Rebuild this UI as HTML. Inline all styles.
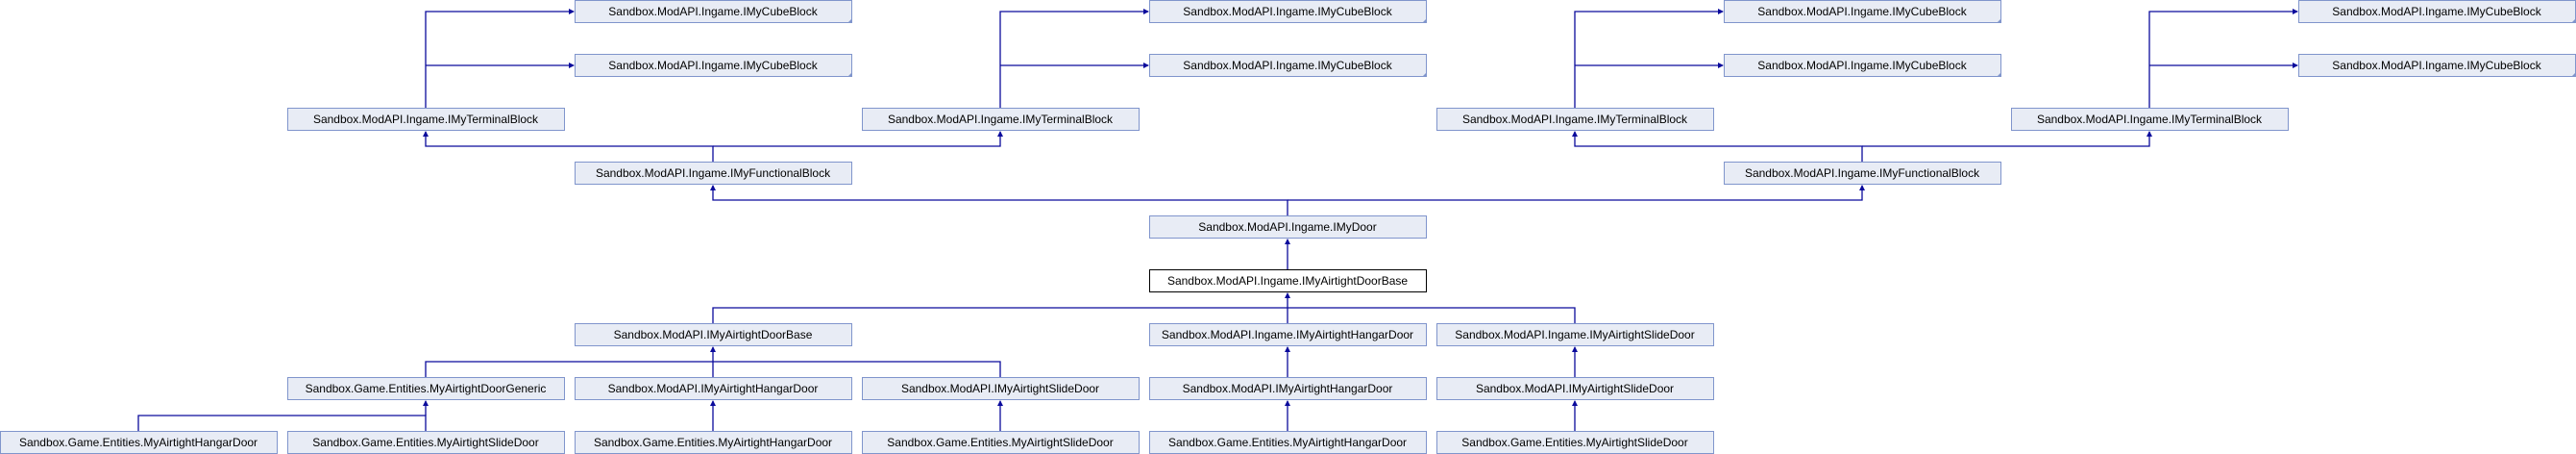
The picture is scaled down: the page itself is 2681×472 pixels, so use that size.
<!DOCTYPE html>
<html><head><meta charset="utf-8"><style>
html,body{margin:0;padding:0;background:#fff;}
svg{display:block;}
text{font-family:"Liberation Sans",sans-serif;font-size:12px;fill:#000;}
</style></head><body>
<svg width="2681" height="472" viewBox="0 0 2681 472" xmlns="http://www.w3.org/2000/svg">
<defs>
<marker id="a" markerWidth="6" markerHeight="6" refX="5" refY="3" orient="auto" markerUnits="userSpaceOnUse">
<path d="M0,0 L6,3 L0,6 z" fill="#0a0a9c"/>
</marker>
</defs>
<g stroke="#0a0a9c" stroke-width="1.3" fill="none">
<!-- terminal -> cube -->
<polyline points="443,113 443,12 597,12" marker-end="url(#a)"/>
<polyline points="443,68 597,68" marker-end="url(#a)"/>
<polyline points="1041,113 1041,12 1195,12" marker-end="url(#a)"/>
<polyline points="1041,68 1195,68" marker-end="url(#a)"/>
<polyline points="1639,113 1639,12 1793,12" marker-end="url(#a)"/>
<polyline points="1639,68 1793,68" marker-end="url(#a)"/>
<polyline points="2237,113 2237,12 2391,12" marker-end="url(#a)"/>
<polyline points="2237,68 2391,68" marker-end="url(#a)"/>
<!-- functional -> terminal -->
<polyline points="742,169 742,152 443,152 443,137" marker-end="url(#a)"/>
<polyline points="742,152 1041,152 1041,137" marker-end="url(#a)"/>
<polyline points="1938,169 1938,152 1639,152 1639,137" marker-end="url(#a)"/>
<polyline points="1938,152 2237,152 2237,137" marker-end="url(#a)"/>
<!-- door -> functional -->
<polyline points="1340,225 1340,208 742,208 742,193" marker-end="url(#a)"/>
<polyline points="1340,208 1938,208 1938,193" marker-end="url(#a)"/>
<!-- base -> door -->
<polyline points="1340,281 1340,249" marker-end="url(#a)"/>
<!-- row6 -> base -->
<polyline points="742,337 742,320 1639,320 1639,337"/>
<polyline points="1340,337 1340,305" marker-end="url(#a)"/>
<!-- row7 -> row6 -->
<polyline points="443,393 443,376 1041,376 1041,393"/>
<polyline points="742,393 742,361" marker-end="url(#a)"/>
<polyline points="1340,393 1340,361" marker-end="url(#a)"/>
<polyline points="1639,393 1639,361" marker-end="url(#a)"/>
<!-- row8 -> row7 -->
<polyline points="144,449 144,432 443,432 443,449"/>
<polyline points="443,432 443,417" marker-end="url(#a)"/>
<polyline points="742,449 742,417" marker-end="url(#a)"/>
<polyline points="1041,449 1041,417" marker-end="url(#a)"/>
<polyline points="1340,449 1340,417" marker-end="url(#a)"/>
<polyline points="1639,449 1639,417" marker-end="url(#a)"/>
</g>
<g id="boxes" stroke-width="1">
<!-- row0/1 cube -->
<g fill="#e8ecf5" stroke="#8095cc">
<rect x="598.5" y="0.5" width="288" height="23"/><rect x="1196.5" y="0.5" width="288" height="23"/><rect x="1794.5" y="0.5" width="288" height="23"/><rect x="2392.5" y="0.5" width="288" height="23"/>
<rect x="598.5" y="56.5" width="288" height="23"/><rect x="1196.5" y="56.5" width="288" height="23"/><rect x="1794.5" y="56.5" width="288" height="23"/><rect x="2392.5" y="56.5" width="288" height="23"/>
<rect x="299.5" y="112.5" width="288" height="23"/><rect x="897.5" y="112.5" width="288" height="23"/><rect x="1495.5" y="112.5" width="288" height="23"/><rect x="2093.5" y="112.5" width="288" height="23"/>
<rect x="598.5" y="168.5" width="288" height="23"/><rect x="1794.5" y="168.5" width="288" height="23"/>
<rect x="1196.5" y="224.5" width="288" height="23"/>
<rect x="598.5" y="336.5" width="288" height="23"/><rect x="1196.5" y="336.5" width="288" height="23"/><rect x="1495.5" y="336.5" width="288" height="23"/>
<rect x="299.5" y="392.5" width="288" height="23"/><rect x="598.5" y="392.5" width="288" height="23"/><rect x="897.5" y="392.5" width="288" height="23"/><rect x="1196.5" y="392.5" width="288" height="23"/><rect x="1495.5" y="392.5" width="288" height="23"/>
<rect x="0.5" y="448.5" width="288" height="23"/><rect x="299.5" y="448.5" width="288" height="23"/><rect x="598.5" y="448.5" width="288" height="23"/><rect x="897.5" y="448.5" width="288" height="23"/><rect x="1196.5" y="448.5" width="288" height="23"/><rect x="1495.5" y="448.5" width="288" height="23"/>
</g>
<rect x="1196.5" y="280.5" width="288" height="23" fill="#fff" stroke="#000"/>
<g fill="#8095cc">
<path d="M887,19 L887,24 L882,24z"/><path d="M1485,19 L1485,24 L1480,24z"/><path d="M2083,19 L2083,24 L2078,24z"/><path d="M2681,19 L2681,24 L2676,24z"/>
<path d="M887,75 L887,80 L882,80z"/><path d="M1485,75 L1485,80 L1480,80z"/><path d="M2083,75 L2083,80 L2078,80z"/><path d="M2681,75 L2681,80 L2676,80z"/>
</g>
</g>
<g text-anchor="middle">
<text x="742" y="16">Sandbox.ModAPI.Ingame.IMyCubeBlock</text><text x="1340" y="16">Sandbox.ModAPI.Ingame.IMyCubeBlock</text><text x="1938" y="16">Sandbox.ModAPI.Ingame.IMyCubeBlock</text><text x="2536" y="16">Sandbox.ModAPI.Ingame.IMyCubeBlock</text>
<text x="742" y="72">Sandbox.ModAPI.Ingame.IMyCubeBlock</text><text x="1340" y="72">Sandbox.ModAPI.Ingame.IMyCubeBlock</text><text x="1938" y="72">Sandbox.ModAPI.Ingame.IMyCubeBlock</text><text x="2536" y="72">Sandbox.ModAPI.Ingame.IMyCubeBlock</text>
<text x="443" y="128">Sandbox.ModAPI.Ingame.IMyTerminalBlock</text><text x="1041" y="128">Sandbox.ModAPI.Ingame.IMyTerminalBlock</text><text x="1639" y="128">Sandbox.ModAPI.Ingame.IMyTerminalBlock</text><text x="2237" y="128">Sandbox.ModAPI.Ingame.IMyTerminalBlock</text>
<text x="742" y="184">Sandbox.ModAPI.Ingame.IMyFunctionalBlock</text><text x="1938" y="184">Sandbox.ModAPI.Ingame.IMyFunctionalBlock</text>
<text x="1340" y="240">Sandbox.ModAPI.Ingame.IMyDoor</text>
<text x="1340" y="296">Sandbox.ModAPI.Ingame.IMyAirtightDoorBase</text>
<text x="742" y="352">Sandbox.ModAPI.IMyAirtightDoorBase</text><text x="1340" y="352">Sandbox.ModAPI.Ingame.IMyAirtightHangarDoor</text><text x="1639" y="352">Sandbox.ModAPI.Ingame.IMyAirtightSlideDoor</text>
<text x="443" y="408">Sandbox.Game.Entities.MyAirtightDoorGeneric</text><text x="742" y="408">Sandbox.ModAPI.IMyAirtightHangarDoor</text><text x="1041" y="408">Sandbox.ModAPI.IMyAirtightSlideDoor</text><text x="1340" y="408">Sandbox.ModAPI.IMyAirtightHangarDoor</text><text x="1639" y="408">Sandbox.ModAPI.IMyAirtightSlideDoor</text>
<text x="144" y="464">Sandbox.Game.Entities.MyAirtightHangarDoor</text><text x="443" y="464">Sandbox.Game.Entities.MyAirtightSlideDoor</text><text x="742" y="464">Sandbox.Game.Entities.MyAirtightHangarDoor</text><text x="1041" y="464">Sandbox.Game.Entities.MyAirtightSlideDoor</text><text x="1340" y="464">Sandbox.Game.Entities.MyAirtightHangarDoor</text><text x="1639" y="464">Sandbox.Game.Entities.MyAirtightSlideDoor</text>
</g>
</svg>
</body></html>
